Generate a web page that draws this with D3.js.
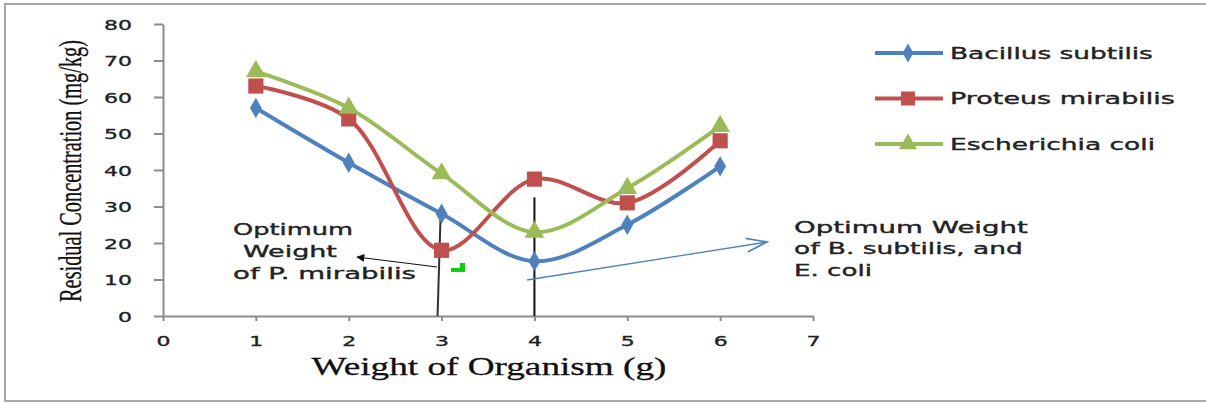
<!DOCTYPE html>
<html>
<head>
<meta charset="utf-8">
<script src="https://cdn.jsdelivr.net/npm/d3@7"></script>
<style>
  html, body { margin: 0; padding: 0; background: #fff; }
  svg { display: block; }
</style>
</head>
<body>
<svg id="chart" width="1206" height="403"></svg>
<script>
// Organism weights (g) and residual concentrations (mg/kg)
const weights = [1, 2, 3, 4, 5, 6];
const bacillus = [57, 42, 28, 15, 25, 41];
const proteus = [63, 54, 18, 37.5, 31, 48];
const ecoli = [67, 57, 39, 23, 35, 52];
const seriesNames = ["Bacillus subtilis", "Proteus mirabilis", "Escherichia coli"];
const xTicks = [0, 1, 2, 3, 4, 5, 6, 7];
const yTicks = [0, 10, 20, 30, 40, 50, 60, 70, 80];

const series = [
  { name: seriesNames[0], values: bacillus, color: "#4F81BD", symbol: d3.symbolDiamond, size: 120 },
  { name: seriesNames[1], values: proteus, color: "#C0504D", symbol: d3.symbolSquare, size: 230 },
  { name: seriesNames[2], values: ecoli, color: "#9BBB59", symbol: d3.symbolTriangle, size: 170 }
];

const svg = d3.select("#chart");
const sans = "'DejaVu Sans', Verdana, sans-serif";
const serif = "'Liberation Serif', 'Times New Roman', serif";

// Place a horizontally stretched text: anchored at (px, py), optionally rotated,
// and scaled along its reading direction so that it spans `width` pixels.
function wideText(parent, str, px, py, width, opts) {
  const o = Object.assign({ size: 15, family: sans, anchor: "start", rotate: 0, fill: "#222", stroke: 0.35 }, opts || {});
  const t = parent.append("text")
    .attr("x", 0).attr("y", 0)
    .attr("text-anchor", o.anchor)
    .attr("font-family", o.family).attr("font-size", o.size)
    .attr("fill", o.fill)
    .attr("stroke", o.stroke ? o.fill : "none")
    .attr("stroke-width", o.stroke)
    .text(str);
  if (o.dy) t.attr("dy", o.dy);
  const k = width / t.node().getComputedTextLength();
  t.attr("transform", `translate(${px},${py}) rotate(${o.rotate}) scale(${k},1)`);
  return t;
}

// outer frame
svg.append("rect")
  .attr("x", 5).attr("y", 4).attr("width", 1210).attr("height", 397)
  .attr("fill", "none").attr("stroke", "#a6a6a6").attr("stroke-width", 2);

const x = d3.scaleLinear().domain([0, 7]).range([163, 813]);
const y = d3.scaleLinear().domain([0, 80]).range([316, 24]);

// axes: lines and ticks from d3 axis generators, labels stretched afterwards
const yAxis = svg.append("g").attr("transform", `translate(${x(0)},0)`)
  .call(d3.axisLeft(y).tickValues(yTicks).tickFormat("").tickSize(9).tickSizeOuter(0));
const xAxis = svg.append("g").attr("transform", `translate(0,${y(0)})`)
  .call(d3.axisBottom(x).tickValues(xTicks).tickFormat("").tickSize(5).tickSizeOuter(0));

[yAxis, xAxis].forEach(g => {
  g.select(".domain").attr("stroke", "#8c8c8c").attr("stroke-width", 2);
  g.selectAll(".tick line").attr("stroke", "#8c8c8c").attr("stroke-width", 2);
});

const fmt = d3.format("d");
yAxis.selectAll(".tick").each(function (d) {
  const s = fmt(d);
  wideText(d3.select(this), s, -31, 0, 14 * s.length, { size: 14.5, anchor: "end", dy: "0.36em" });
});
xAxis.selectAll(".tick").each(function (d) {
  const s = fmt(d);
  wideText(d3.select(this), s, 0, 30, 14 * s.length, { size: 14.5, anchor: "middle" });
});

// axis titles
wideText(svg, "Residual Concentration (mg/kg)", 81, 171, 262,
  { size: 31, family: serif, anchor: "middle", rotate: -90, fill: "#111", stroke: 0.3 });
wideText(svg, "Weight of Organism (g)", 489, 375, 355,
  { size: 26, family: serif, anchor: "middle", fill: "#111", stroke: 0.3 });

// annotation guides
svg.append("line")
  .attr("x1", x(3) - 4).attr("y1", y(0)).attr("x2", x(3) - 1).attr("y2", y(27.5))
  .attr("stroke", "#333").attr("stroke-width", 2);
svg.append("line")
  .attr("x1", x(4)).attr("y1", y(0)).attr("x2", x(4)).attr("y2", y(32.5))
  .attr("stroke", "#111").attr("stroke-width", 2);

// smoothed series lines
const line = d3.line()
  .x((d, i) => x(weights[i]))
  .y(d => y(d))
  .curve(d3.curveCatmullRom.alpha(0.5));

series.forEach(s => {
  svg.append("path")
    .attr("d", line(s.values))
    .attr("fill", "none").attr("stroke", s.color)
    .attr("stroke-width", 4).attr("stroke-linejoin", "round");
});

series.forEach(s => {
  svg.append("g").selectAll("path")
    .data(s.values)
    .join("path")
    .attr("transform", (d, i) => `translate(${x(weights[i])},${y(d)})`)
    .attr("d", d3.symbol().type(s.symbol).size(s.size))
    .attr("fill", s.color);
});

// legend
const legendWidths = [203, 225, 205];
const legend = svg.append("g");
series.forEach((s, i) => {
  const ly = 53 + i * 45.5;
  legend.append("line")
    .attr("x1", 875).attr("x2", 943).attr("y1", ly).attr("y2", ly)
    .attr("stroke", s.color).attr("stroke-width", 4);
  legend.append("path")
    .attr("transform", `translate(908,${ly})`)
    .attr("d", d3.symbol().type(s.symbol).size(s.size * 0.85))
    .attr("fill", s.color);
  wideText(legend, s.name, 950, ly + 5.5, legendWidths[i], { size: 15 });
});

// arrow markers
const defs = svg.append("defs");
defs.append("marker")
  .attr("id", "solidHead").attr("viewBox", "0 0 10 10")
  .attr("refX", 9).attr("refY", 5)
  .attr("markerWidth", 12).attr("markerHeight", 8)
  .attr("markerUnits", "userSpaceOnUse")
  .attr("orient", "auto")
  .append("path").attr("d", "M0,0 L10,5 L0,10 z").attr("fill", "#111");
defs.append("marker")
  .attr("id", "openHead").attr("viewBox", "0 0 20 14")
  .attr("refX", 19).attr("refY", 7)
  .attr("markerWidth", 26).attr("markerHeight", 16)
  .attr("markerUnits", "userSpaceOnUse")
  .attr("orient", "auto")
  .append("path").attr("d", "M1,1 L19,7 L1,13")
  .attr("fill", "none").attr("stroke", "#4F81BD").attr("stroke-width", 1.5);

// annotation for P. mirabilis
svg.append("line")
  .attr("x1", 437).attr("y1", 267).attr("x2", 357).attr("y2", 257)
  .attr("stroke", "#111").attr("stroke-width", 1.2)
  .attr("marker-end", "url(#solidHead)");

[["Optimum", 233, 235, 120], ["Weight", 243, 257, 94], ["of P. mirabilis", 233, 279, 183]]
  .forEach(([t, tx, ty, w]) => wideText(svg, t, tx, ty, w, { size: 15.5 }));

// small green mark
svg.append("path")
  .attr("d", "M451,268 L465,268 L465,272 L451,272 Z M460,263 L465,263 L465,268 L460,268 Z")
  .attr("fill", "#11cc11");

// annotation for B. subtilis and E. coli
svg.append("line")
  .attr("x1", 527).attr("y1", 280).attr("x2", 767).attr("y2", 242)
  .attr("stroke", "#4F81BD").attr("stroke-width", 1.3)
  .attr("marker-end", "url(#openHead)");

[["Optimum Weight", 233, 234], ["of B. subtilis, and", 254, 229], ["E. coli", 276, 78]]
  .forEach(([t, ty, w]) => wideText(svg, t, 794, ty, w, { size: 15.5 }));
</script>
</body>
</html>
